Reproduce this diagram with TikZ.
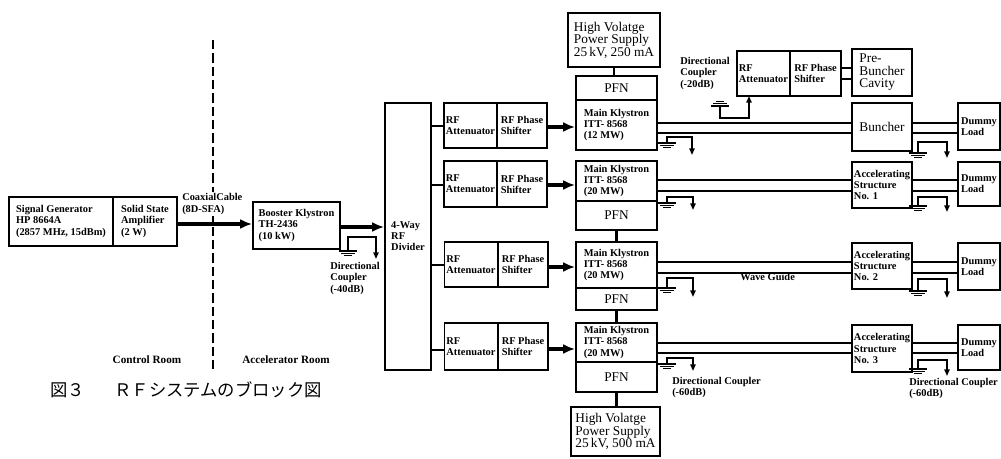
\documentclass[tikz,border=0pt]{standalone}
\usepackage{fontspec}
\setmainfont{Liberation Serif}
\newfontfamily\cjk{Noto Sans CJK JP}
\usetikzlibrary{arrows.meta}
\tikzset{
  bx/.style 2 args={draw, line width=1.3pt, minimum width=#1*0.75pt, minimum height=#2*0.75pt,
    inner sep=1pt, align=left, font=\fontsize{7.8}{8.3}\selectfont\bfseries},
  big/.style={font=\fontsize{10}{9.4}\selectfont},
  lbl/.style={align=left, inner sep=0pt, font=\fontsize{7.8}{8.6}\selectfont\bfseries},
  feed/.style={line width=2.6pt, -{Latex[length=9pt,width=7.5pt]}},
  wg/.style={line width=1pt},
  branch/.style={line width=2pt},
  cpl/.style={line width=1.2pt, -{Triangle[length=5pt,width=4pt]}},
  tie/.style={line width=2.2pt},
  gnd/.pic={\draw[line width=1.3pt] (-9,0)--(9,0);
            \draw[line width=0.8pt] (-7,2.2)--(7,2.2);
            \draw[line width=0.8pt] (-4,4.2)--(4,4.2);}
}
\begin{document}
\begin{tikzpicture}[x=0.75pt,y=-0.75pt]
\useasboundingbox (0,0) rectangle (1001,459);

% ---- control room
\node[bx={104}{49}] (sg) at (61,221.5) {Signal Generator\\HP 8664A\\(2857 MHz, 15dBm)};
\node[bx={64}{49}] (ssa) at (145,221.5) {Solid State\\Amplifier\\(2 W)};
\draw[line width=1.5pt, dash pattern=on 7pt off 3pt] (213,40) -- (213,373);
\node[lbl, font=\fontsize{8.4}{9}\selectfont\bfseries] (cr) at (147,360) {Control Room};
\node[lbl, font=\fontsize{8.4}{9}\selectfont\bfseries] (ar) at (286,360) {Accelerator Room};

% ---- booster
\node[bx={87}{47}] (bk) at (296.5,225.5) {Booster Klystron\\TH-2436\\(10 kW)};
\draw[feed] (ssa.east |- 0,224) -- (bk.west |- 0,224);
\node[lbl, anchor=west, fill=white, inner ysep=1pt] (cc) at (182,204) {CoaxialCable\\(8D-SFA)};

\node[bx={46}{267}] (div) at (408,236.5) {4-Way\\RF\\Divider};
\draw[feed] (bk.east |- 0,227) -- (div.west |- 0,227);

\coordinate (c0g) at (348,251);
\coordinate (c0t) at (376,259);
\draw[cpl] (c0g) -- ++(0,-14) -| (c0t);
\pic at (c0g) {gnd};
\node[lbl, anchor=north west] (dc40) at (330,262) {Directional\\Coupler\\(-40dB)};

% ---- attenuators / phase shifters
\node[bx={53}{45}] (at1) at (470.5,125.5) {RF\\Attenuator};
\node[bx={50}{45}] (ps1) at (522,125.5) {RF Phase\\Shifter};
\node[bx={53}{46}] (at2) at (470.5,184) {RF\\Attenuator};
\node[bx={50}{46}] (ps2) at (522,184) {RF Phase\\Shifter};
\node[bx={53}{45}] (at3) at (471,264.5) {RF\\Attenuator};
\node[bx={50}{45}] (ps3) at (523,264.5) {RF Phase\\Shifter};
\node[bx={53}{47}] (at4) at (471,346.5) {RF\\Attenuator};
\node[bx={50}{47}] (ps4) at (523,346.5) {RF Phase\\Shifter};

\draw[branch] (div.east |- 0,126) -- (at1.west |- 0,126);
\draw[branch] (div.east |- 0,185) -- (at2.west |- 0,185);
\draw[branch] (div.east |- 0,265) -- (at3.west |- 0,265);
\draw[branch] (div.east |- 0,350) -- (at4.west |- 0,350);

% ---- klystron column
\node[bx={92}{54}, big] (hv1) at (614,40) {High Volatge\\Power Supply\\25\,kV, 250 mA};
\node[bx={81}{24}, big] (pfn1) at (616.5,88) {PFN};
\node[bx={81}{50}] (k1) at (616.5,125) {Main Klystron\\ITT- 8568\\(12 MW)};
\node[bx={81}{40}] (k2) at (616.5,181) {Main Klystron\\ITT- 8568\\(20 MW)};
\node[bx={81}{29}, big] (pfn2) at (616.5,215.5) {PFN};
\node[bx={81}{46}] (k3) at (616.5,265) {Main Klystron\\ITT- 8568\\(20 MW)};
\node[bx={81}{22}, big] (pfn3) at (616.5,299) {PFN};
\node[bx={81}{39}] (k4) at (616.5,342.5) {Main Klystron\\ITT- 8568\\(20 MW)};
\node[bx={81}{30}, big] (pfn4) at (616.5,377) {PFN};
\node[bx={89}{49}, big] (hv2) at (615.5,431.5) {High Volatge\\Power Supply\\25\,kV, 500 mA};

\draw[tie] (hv1.south) -- (hv1.south |- pfn1.north);
\draw[tie] (pfn2.south) -- (k3.north);
\draw[tie] (pfn3.south) -- (k4.north);
\draw[tie] (pfn4.south) -- (pfn4.south |- hv2.north);

\draw[feed] (ps1.east |- 0,127) -- (k1.west |- 0,127);
\draw[feed] (ps2.east |- 0,185) -- (k2.west |- 0,185);
\draw[feed] (ps3.east |- 0,267) -- (k3.west |- 0,267);
\draw[feed] (ps4.east |- 0,349) -- (k4.west |- 0,349);

% ---- pre-buncher branch
\node[bx={53}{45}] (pat) at (763.5,73.5) {RF\\Attenuator};
\node[bx={51}{45}] (pps) at (815.5,73.5) {RF Phase\\Shifter};
\node[bx={60}{47}, big] (preb) at (882,72.5) {Pre-\\Buncher\\Cavity};
\draw[wg] (pps.east |- 0,68) -- (preb.west |- 0,68);
\draw[wg] (pps.east |- 0,79) -- (preb.west |- 0,79);
\node[lbl, anchor=north west] (dc20) at (680,57) {Directional\\Coupler\\(-20dB)};
\coordinate (cug) at (720,106);
\coordinate (cut) at (749,96);
\draw[cpl] (cug) -- ++(0,12) -| (cut);
\pic[rotate=180] at (cug) {gnd};

% ---- structures
\node[bx={60}{48}, big] (bun) at (882,127) {Buncher};
\node[bx={42}{47}] (dl1) at (979,126.5) {Dummy\\Load};
\node[bx={60}{46}] (ac1) at (882,185) {Accelerating\\Structure\\No. 1};
\node[bx={42}{44}] (dl2) at (979,184) {Dummy\\Load};
\node[bx={60}{46}] (ac2) at (882,266) {Accelerating\\Structure\\No. 2};
\node[bx={42}{47}] (dl3) at (979,266.5) {Dummy\\Load};
\node[bx={60}{47}] (ac3) at (882,348.5) {Accelerating\\Structure\\No. 3};
\node[bx={42}{45}] (dl4) at (979,347.5) {Dummy\\Load};

% ---- wave guides
\foreach \k/\a/\d/\ya/\yb in {k1/bun/dl1/123/133, k2/ac1/dl2/180/191, k3/ac2/dl3/262/273, k4/ac3/dl4/343/353}{
  \draw[wg] (\k.east |- 0,\ya) -- (\a.west |- 0,\ya);
  \draw[wg] (\k.east |- 0,\yb) -- (\a.west |- 0,\yb);
  \draw[wg] (\a.east |- 0,\ya) -- (\d.west |- 0,\ya);
  \draw[wg] (\a.east |- 0,\yb) -- (\d.west |- 0,\yb);
}
\node[lbl, anchor=west] (wgl) at (740,277) {Wave Guide};

% ---- directional couplers
\foreach \n/\gx/\gy/\ty/\tx/\ay in {a1/667/143/137/692/155, a2/667/203/197/693/210, a3/667/288/278/693/297, a4/667/364/358/693/371,
                                    b1/918/153/142/947/158, b2/918/206/197/947/212, b3/918/291/279/947/298, b4/918/369/360/947/376}{
  \coordinate (g\n) at (\gx,\gy);
  \coordinate (t\n) at (\tx,\ay);
  \draw[cpl] (g\n) -- (\gx,\ty) -| (t\n);
  \pic at (g\n) {gnd};
}
\node[lbl, anchor=north west] (dc60a) at (672,377) {Directional Coupler\\(-60dB)};
\node[lbl, anchor=north west] (dc60b) at (909,378) {Directional Coupler\\(-60dB)};

% ---- caption
\node[anchor=west, inner sep=0pt, font=\cjk\fontsize{13}{13}\selectfont] (cap) at (50,390) {図３\hspace{1.7em}ＲＦシステムのブロック図};
\end{tikzpicture}
\end{document}
